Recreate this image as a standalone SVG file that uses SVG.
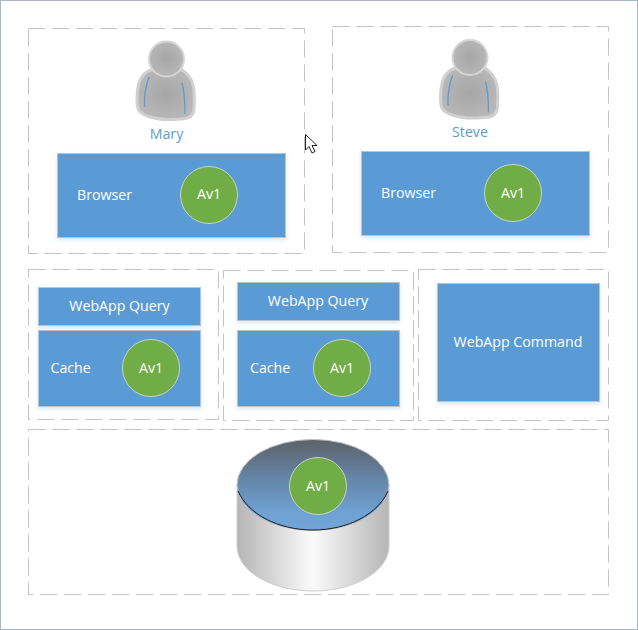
<svg xmlns="http://www.w3.org/2000/svg" width="638" height="630" viewBox="0 0 638 630">
<style>
text{font-family:"Open Sans","Noto Sans","Liberation Sans",sans-serif;font-size:14.200px;fill:#fff}
.c{text-anchor:middle}
.zone{fill:#fff;stroke:#c4c4c4;stroke-width:1;stroke-dasharray:17 7}
.box{fill:#5b9bd5;stroke:#bcc3ca;stroke-width:1;filter:drop-shadow(0 2px 2px rgba(91,155,213,.25))}
.av{fill:#70ad47;stroke:#c9d3c4;stroke-width:1}
.name{fill:#5b9bd5;text-anchor:middle}
</style>
<defs>
<radialGradient id="pg" cx="0.5" cy="0.5" r="0.6"><stop offset="0" stop-color="#a6a6a6"/><stop offset="1" stop-color="#bababa"/></radialGradient>
<linearGradient id="cylSide" x1="0" x2="1" y1="0" y2="0"><stop offset="0" stop-color="#b5b5b5"/><stop offset="0.5" stop-color="#fbfbfb"/><stop offset="1" stop-color="#b5b5b5"/></linearGradient>
<linearGradient id="cylTop" x1="0" x2="0" y1="0" y2="1"><stop offset="0" stop-color="#5d6268"/><stop offset="0.45" stop-color="#6587ab"/><stop offset="0.8" stop-color="#6fa1d3"/><stop offset="1" stop-color="#71a5d8"/></linearGradient>
<g id="person">
<path d="M151 70C140 74 137 84 137 100C137 111 139 112 147 116C158 120 170 120 180 119C186 119 194 118 194 108C195 92 195 78 182 70Z" fill="url(#pg)" stroke="#d0d0d0" stroke-width="3"/>
<circle cx="166.500" cy="59" r="17.500" fill="url(#pg)" stroke="#d6d6d6" stroke-width="2"/>
<path d="M149 77C145 88 144 96 144.500 107M182 83C185 94 185 102 185 114" fill="none" stroke="#5b9bd5" stroke-width="1.300"/>
</g>
</defs>
<rect x="0.500" y="0.500" width="637" height="629" fill="#fff" stroke="#a9b6c4"/>
<g id="connectors"/>
<g id="mary-zone">
<rect class="zone" x="28.500" y="28.500" width="276" height="225"/>
<use href="#person"/>
<text class="name" x="166.500" y="139">Mary</text>
</g>
<g id="mary-browser">
<rect class="box" x="57.500" y="153.500" width="228" height="84"/>
<text x="77" y="200">Browser</text>
<circle class="av" cx="209" cy="195" r="28.500"/>
<text class="c" x="209" y="199">Av1</text>
</g>
<g id="steve-zone">
<rect class="zone" x="332.500" y="26.500" width="276" height="226"/>
<use href="#person" x="303.500" y="-1.500"/>
<text class="name" x="470" y="137">Steve</text>
</g>
<g id="steve-browser">
<rect class="box" x="361.500" y="151.500" width="228" height="84"/>
<text x="381" y="198">Browser</text>
<circle class="av" cx="513" cy="193" r="28.500"/>
<text class="c" x="513" y="198">Av1</text>
</g>
<g id="zone-a"><rect class="zone" x="28.500" y="269.500" width="190" height="150"/></g>
<g id="zone-b"><rect class="zone" x="223.500" y="270.500" width="190" height="150"/></g>
<g id="zone-c"><rect class="zone" x="418.500" y="269.500" width="190" height="151"/></g>
<g id="query-a">
<rect class="box" x="38.500" y="287.500" width="162" height="38"/>
<text class="c" x="119.500" y="311">WebApp Query</text>
</g>
<g id="cache-a">
<rect class="box" x="38.500" y="330.500" width="162" height="76"/>
<text x="50.500" y="373">Cache</text>
<circle class="av" cx="151" cy="368" r="28.500"/>
<text class="c" x="151" y="373">Av1</text>
</g>
<g id="query-b">
<rect class="box" x="237.500" y="282.500" width="162" height="38"/>
<text class="c" x="318" y="306">WebApp Query</text>
</g>
<g id="cache-b">
<rect class="box" x="237.500" y="330.500" width="162" height="76"/>
<text x="250" y="373">Cache</text>
<circle class="av" cx="342" cy="368" r="28.500"/>
<text class="c" x="342" y="373">Av1</text>
</g>
<g id="command">
<rect class="box" x="437.500" y="283.500" width="162" height="118"/>
<text class="c" x="518" y="347">WebApp Command</text>
</g>
<g id="db-zone"><rect class="zone" x="28.500" y="429.500" width="580" height="165"/></g>
<g id="db">
<path d="M237 484V546C237 571 271 591 313 591C355 591 389 571 389 546V484Z" fill="url(#cylSide)" stroke="#cfcfcf"/>
<ellipse cx="313" cy="485" rx="76" ry="45.500" fill="url(#cylTop)" stroke="#c4c4c4" stroke-width="1"/>
<path d="M238 491C248 514 278 530 313 530C348 530 378 514 388 491" fill="none" stroke="#1e1e1e" stroke-width="1"/>
<circle class="av" cx="318" cy="486" r="28.500"/>
<text class="c" x="318" y="491">Av1</text>
</g>
<path id="cursor" d="M305.500 134.500V150L309 146.500L312 153L315 151.500L312 145.500H317Z" fill="#fff" stroke="#222" stroke-width="1"/>
</svg>
